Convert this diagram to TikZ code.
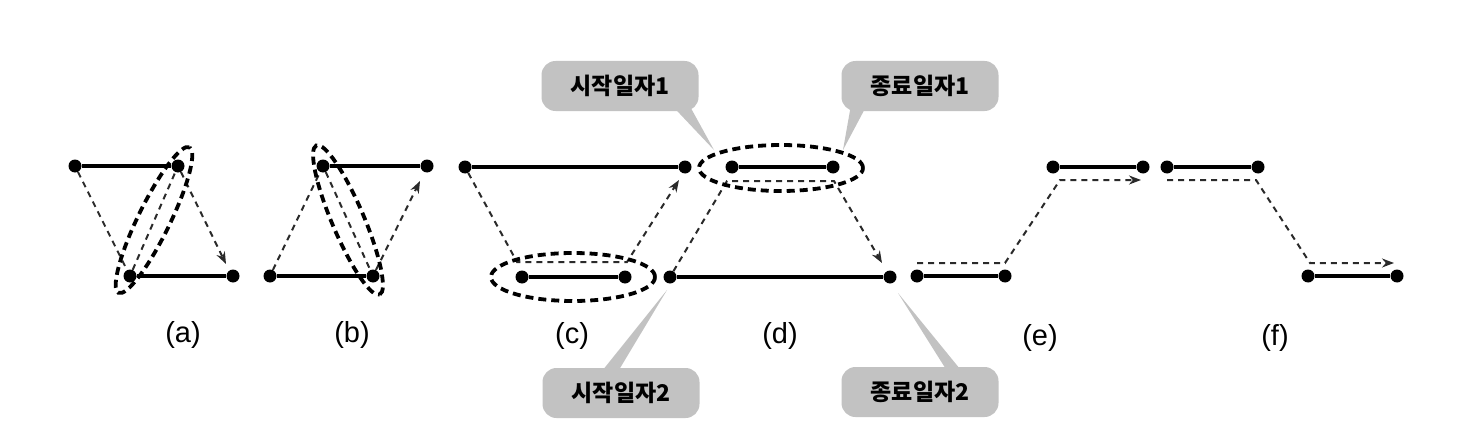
\documentclass[tikz,border=0pt]{standalone}
\usepackage{fontspec}
\setmainfont{Liberation Sans}
\newfontfamily\kr{Noto Sans CJK KR}
\usetikzlibrary{arrows.meta,calc}
\pgfdeclarelayer{bg}
\pgfsetlayers{bg,main}
\definecolor{callgray}{HTML}{C2C2C2}
\definecolor{flowgray}{HTML}{2A2A2A}
\begin{document}
\begin{tikzpicture}[x=1pt,y=-1pt,
 dot/.style={circle,fill=black,inner sep=0pt,minimum size=13pt},
 seg/.style={line width=3.6pt},
 flow/.style={draw=flowgray,line width=2pt,dash pattern=on 6pt off 5pt,-{Stealth[length=12pt,width=9pt]}},
 grp/.style={line width=3.8pt,dash pattern=on 8pt off 5pt},
 lab/.style={font=\fontsize{29}{32}\selectfont},
 callout/.style={fill=callgray,rounded corners=14pt,minimum width=157pt,minimum height=50pt,inner sep=0pt,font=\kr\bfseries\fontsize{23}{26}\selectfont},
 tail/.style={fill=callgray}
]
\useasboundingbox (0,0) rectangle (1462,436);

% dots
\node[dot] (a1) at (75,166) {};  \node[dot] (a2) at (178,166) {};
\node[dot] (a3) at (130,276) {}; \node[dot] (a4) at (233,276) {};
\node[dot] (b1) at (323,166) {}; \node[dot] (b2) at (427,166) {};
\node[dot] (b3) at (270,276) {}; \node[dot] (b4) at (373,276) {};
\node[dot] (c1) at (465,167) {}; \node[dot] (c2) at (685,167) {};
\node[dot] (c3) at (522,277) {}; \node[dot] (c4) at (625,277) {};
\node[dot] (d1) at (732,167) {}; \node[dot] (d2) at (833,167) {};
\node[dot] (d3) at (670,277) {}; \node[dot] (d4) at (890,277) {};
\node[dot] (e1) at (1053,167) {}; \node[dot] (e2) at (1143,167) {};
\node[dot] (e3) at (917,276) {};  \node[dot] (e4) at (1005,276) {};
\node[dot] (f1) at (1167,167) {}; \node[dot] (f2) at (1258,167) {};
\node[dot] (f3) at (1308,276) {}; \node[dot] (f4) at (1397,276) {};

% solid segments
\foreach \p in {a,b,c,d,e,f}{
  \draw[seg] (\p1) -- (\p2);
  \draw[seg] (\p3) -- (\p4);
}

% flow coordinates
\coordinate (aT) at (226,264);
\coordinate (bT) at (420,181);
\coordinate (cA) at (517,262); \coordinate (cB) at (627,262); \coordinate (cT) at (679,180);
\coordinate (dA) at (727,181); \coordinate (dB) at (834,181); \coordinate (dT) at (882,263);
\coordinate (eS) at (917,263); \coordinate (eA) at (1005,263); \coordinate (eB) at (1060,180); \coordinate (eT) at (1141,180);
\coordinate (fS) at (1167,180); \coordinate (fA) at (1256,180); \coordinate (fB) at (1310,263); \coordinate (fT) at (1394,263);

\draw[flow] (a1) -- (a3) -- (a2) -- (aT);
\draw[flow] (b3) -- (b1) -- (b4) -- (bT);
\draw[flow] (c1) -- (cA) -- (cB) -- (cT);
\draw[flow] (d3) -- (dA) -- (dB) -- (dT);
\draw[flow] (eS) -- (eA) -- (eB) -- (eT);
\draw[flow] (fS) -- (fA) -- (fB) -- (fT);

% grouping ellipses
\draw[grp] (154,220) circle[x radius=81pt, y radius=16pt, rotate=64];
\draw[grp] (348,220) circle[x radius=81pt, y radius=16pt, rotate=-67];
\draw[grp] (573,277) circle[x radius=82pt, y radius=24pt];
\draw[grp] (781,168) circle[x radius=82pt, y radius=23pt];

% labels
\node[lab] (la) at (183,335) {(a)};
\node[lab] (lb) at (352,335) {(b)};
\node[lab] (lc) at (572,336) {(c)};
\node[lab] (ld) at (780,336) {(d)};
\node[lab] (le) at (1040,338) {(e)};
\node[lab] (lf) at (1275,338) {(f)};

% callouts
\node[callout] (s1) at (620,86) {시작일자1};
\node[callout] (t1) at (920,86) {종료일자1};
\node[callout] (s2) at (621,393) {시작일자2};
\node[callout] (t2) at (920,392) {종료일자2};
\coordinate (s1tip) at (714,150);
\coordinate (t1tip) at (843,150);
\coordinate (s2tip) at (667,290);
\coordinate (t2tip) at (898,293);
\begin{pgfonlayer}{bg}
\fill[tail] ($(s1.south)+(46,-12)$) -- ($(s1.south)+(66,-12)$) -- (s1tip) -- cycle;
\fill[tail] ($(t1.south)+(-68,-12)$) -- ($(t1.south)+(-50,-12)$) -- (t1tip) -- cycle;
\fill[tail] ($(s2.north)+(-26,12)$) -- ($(s2.north)+(-8,12)$) -- (s2tip) -- cycle;
\fill[tail] ($(t2.north)+(32,12)$) -- ($(t2.north)+(48,12)$) -- (t2tip) -- cycle;
\end{pgfonlayer}
\end{tikzpicture}
\end{document}
